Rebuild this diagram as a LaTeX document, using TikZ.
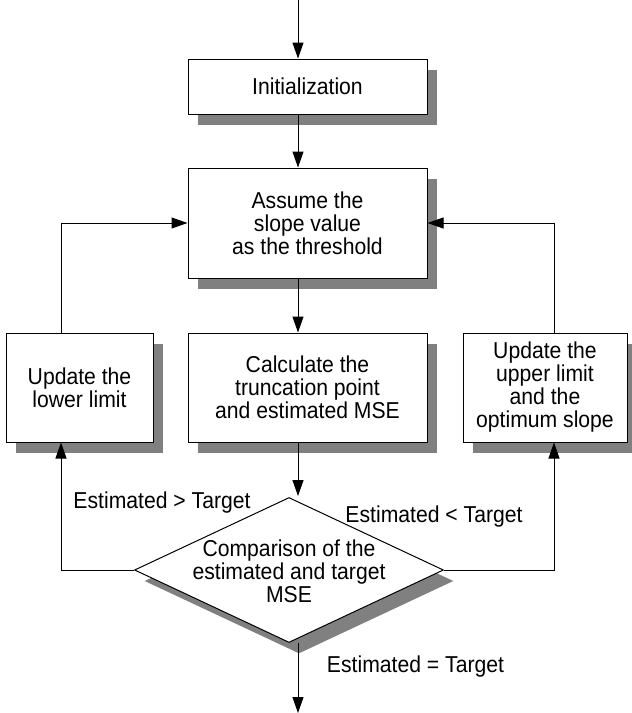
\documentclass[tikz,border=0pt]{standalone}
\usepackage{fontspec}
\setmainfont[FakeStretch=0.92]{Liberation Sans}
\usetikzlibrary{arrows.meta,shapes.geometric,shadows}
\begin{document}
\begin{tikzpicture}[x=1pt,y=1pt,
  every node/.style={font=\fontsize{23}{23}\selectfont, text=black},
  shad/.style={drop shadow={shadow xshift=10pt,shadow yshift=-11pt,fill=black!50,opacity=1}},
  procbox/.style={draw=black, line width=1pt, fill=white, shad, inner sep=0pt, align=center},
  arr/.style={line width=1pt, -{Triangle[length=16pt,width=11pt]}},
  lbl/.style={anchor=base, inner sep=0pt}
]
\useasboundingbox (0,0) rectangle (632,-713);
% axis coordinates
\coordinate (ax) at (298,0);
\coordinate (lx) at (61,0);
\coordinate (rx) at (554,0);
\coordinate (topin) at (298,0);
\coordinate (dtop) at (298,-496);
\coordinate (botout) at (298,-713);

\node[procbox, minimum width=239pt, minimum height=55pt] (init) at (307.5,-86.5) {Initialization};
\node[procbox, minimum width=239pt, minimum height=110pt] (assume) at (307.5,-223) {Assume the\\slope value\\as the threshold};
\node[procbox, minimum width=239pt, minimum height=109pt] (calc) at (307.5,-387.5) {Calculate the\\truncation point\\and estimated MSE};
\node[procbox, minimum width=147pt, minimum height=109pt] (lower) at (79.5,-387.5) {Update the\\lower limit};
\node[procbox, minimum width=164pt, minimum height=109pt] (upper) at (545,-387.5) {Update the\\upper limit\\and the\\optimum slope};
\node[diamond, draw=black, line width=1pt, fill=white, shad, inner sep=0pt,
      minimum width=309pt, minimum height=145pt] (dia) at (289,-570) {};
\node[align=center, inner sep=0pt] (diatext) at (289,-571) {Comparison of the\\estimated and target\\MSE};

\draw[arr] (topin) -- (init.north -| ax);
\draw[arr] (init.south -| ax) -- (assume.north -| ax);
\draw[arr] (assume.south -| ax) -- (calc.north -| ax);
\draw[arr] (calc.south -| ax) -- (dtop);
\draw[arr] (dia.south -| ax) -- (botout);
\draw[arr] (dia.west) -| (lower.south -| lx);
\draw[arr] (dia.east) -| (upper.south -| rx);
\draw[arr] (lower.north -| lx) |- (assume.west);
\draw[arr] (upper.north -| rx) |- (assume.east);

\node[lbl] (gt) at (162,-508) {Estimated > Target};
\node[lbl] (lt) at (434,-522) {Estimated < Target};
\node[lbl] (eq) at (415.5,-672) {Estimated = Target};
\end{tikzpicture}
\end{document}
